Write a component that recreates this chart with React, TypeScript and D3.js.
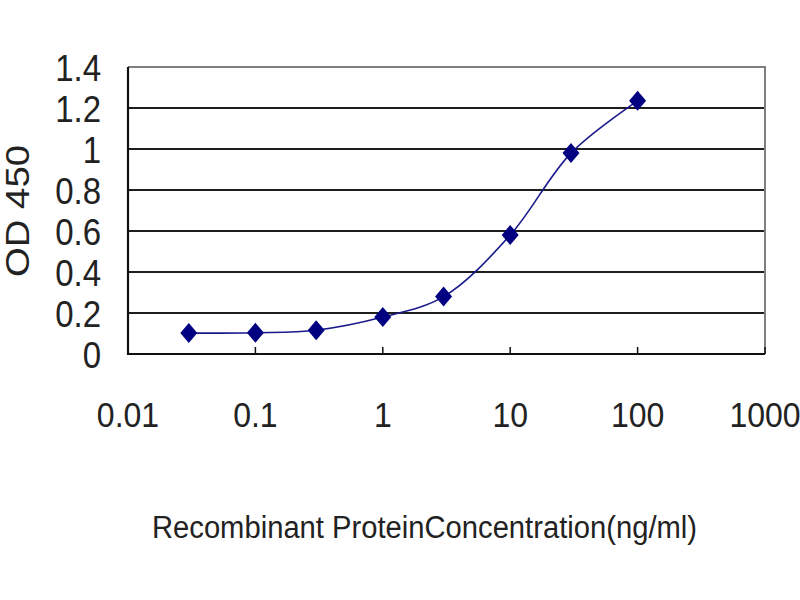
import { useEffect, useRef } from "react";
import * as d3 from "d3";

// ELISA standard curve
const concentrations = [0.03, 0.1, 0.3, 1, 3, 10, 30, 100];
const odValues = [0.102, 0.104, 0.116, 0.18, 0.28, 0.58, 0.98, 1.235];
const xTicks = [0.01, 0.1, 1, 10, 100, 1000];
const yTicks = [0, 0.2, 0.4, 0.6, 0.8, 1, 1.2, 1.4];

export default function App() {
  const svgRef = useRef<SVGSVGElement>(null);

  useEffect(() => {
    if (!svgRef.current) return;
    const svg = d3.select(svgRef.current);
    svg.selectAll("*").remove();

    const left = 128;
    const right = 765;
    const top = 67;
    const bottom = 354;
    const font = "'Liberation Sans', Arial, sans-serif";
    const navy = "#000080";

    const x = d3.scaleLog().domain([0.01, 1000]).range([left, right]);
    const y = d3.scaleLinear().domain([0, 1.4]).range([bottom, top]);

    svg.append("rect").attr("width", 800).attr("height", 600).attr("fill", "#fff");

    // Grid lines
    svg
      .append("g")
      .selectAll("line")
      .data(yTicks.filter((d) => d > 0 && d < 1.4))
      .join("line")
      .attr("x1", left)
      .attr("x2", right)
      .attr("y1", (d) => y(d))
      .attr("y2", (d) => y(d))
      .attr("stroke", "#1e1e1e")
      .attr("stroke-width", 2);

    // Plot border (top and right in grey)
    svg
      .append("path")
      .attr("d", `M${left},${top}H${right}V${bottom}`)
      .attr("fill", "none")
      .attr("stroke", "#808080")
      .attr("stroke-width", 2);

    // Axes lines
    svg
      .append("path")
      .attr("d", `M${left},${top}V${bottom}H${right}`)
      .attr("fill", "none")
      .attr("stroke", "#111")
      .attr("stroke-width", 2.2);

    // X ticks point inward
    svg
      .append("g")
      .selectAll("line")
      .data(xTicks)
      .join("line")
      .attr("x1", (d) => x(d))
      .attr("x2", (d) => x(d))
      .attr("y1", bottom)
      .attr("y2", bottom - 7)
      .attr("stroke", "#111")
      .attr("stroke-width", 1.5);

    // Y tick labels
    svg
      .append("g")
      .selectAll("text")
      .data(yTicks)
      .join("text")
      .attr("transform", (d) => `translate(101,${y(d)}) scale(1,1.14)`)
      .attr("dy", "0.36em")
      .attr("text-anchor", "end")
      .attr("font-family", font)
      .attr("font-size", 33)
      .attr("fill", "#222")
      .text((d) => String(d));

    // X tick labels
    svg
      .append("g")
      .selectAll("text")
      .data(xTicks)
      .join("text")
      .attr("transform", (d) => `translate(${x(d)},427) scale(1,1.08)`)
      .attr("text-anchor", "middle")
      .attr("font-family", font)
      .attr("font-size", 32)
      .attr("fill", "#222")
      .text((d) => String(d));

    // Axis titles
    svg
      .append("text")
      .attr("transform", "translate(17,211) rotate(-90)")
      .attr("dy", "0.36em")
      .attr("text-anchor", "middle")
      .attr("font-family", font)
      .attr("font-size", 33)
      .attr("textLength", 132)
      .attr("lengthAdjust", "spacingAndGlyphs")
      .attr("fill", "#222")
      .text("OD 450");

    svg
      .append("text")
      .attr("x", 152)
      .attr("y", 538)
      .attr("font-family", font)
      .attr("font-size", 31)
      .attr("textLength", 545)
      .attr("lengthAdjust", "spacingAndGlyphs")
      .attr("fill", "#222")
      .text("Recombinant ProteinConcentration(ng/ml)");

    const points = concentrations.map((c, i) => [c, odValues[i]] as [number, number]);

    // Smoothed line
    const line = d3
      .line<[number, number]>()
      .x((d) => x(d[0]))
      .y((d) => y(d[1]))
      .curve(d3.curveCatmullRom.alpha(0.5));

    svg
      .append("path")
      .datum(points)
      .attr("d", line)
      .attr("fill", "none")
      .attr("stroke", "#1a1a8c")
      .attr("stroke-width", 1.6);

    // Diamond markers
    const w = 8.5;
    const h = 10;
    svg
      .append("g")
      .selectAll("path")
      .data(points)
      .join("path")
      .attr("d", (d) => {
        const cx = x(d[0]);
        const cy = y(d[1]);
        return `M${cx},${cy - h}L${cx + w},${cy}L${cx},${cy + h}L${cx - w},${cy}Z`;
      })
      .attr("fill", navy);
  }, []);

  return (
    <svg
      ref={svgRef}
      width={800}
      height={600}
      style={{ position: "absolute", left: 0, top: 0 }}
    />
  );
}
